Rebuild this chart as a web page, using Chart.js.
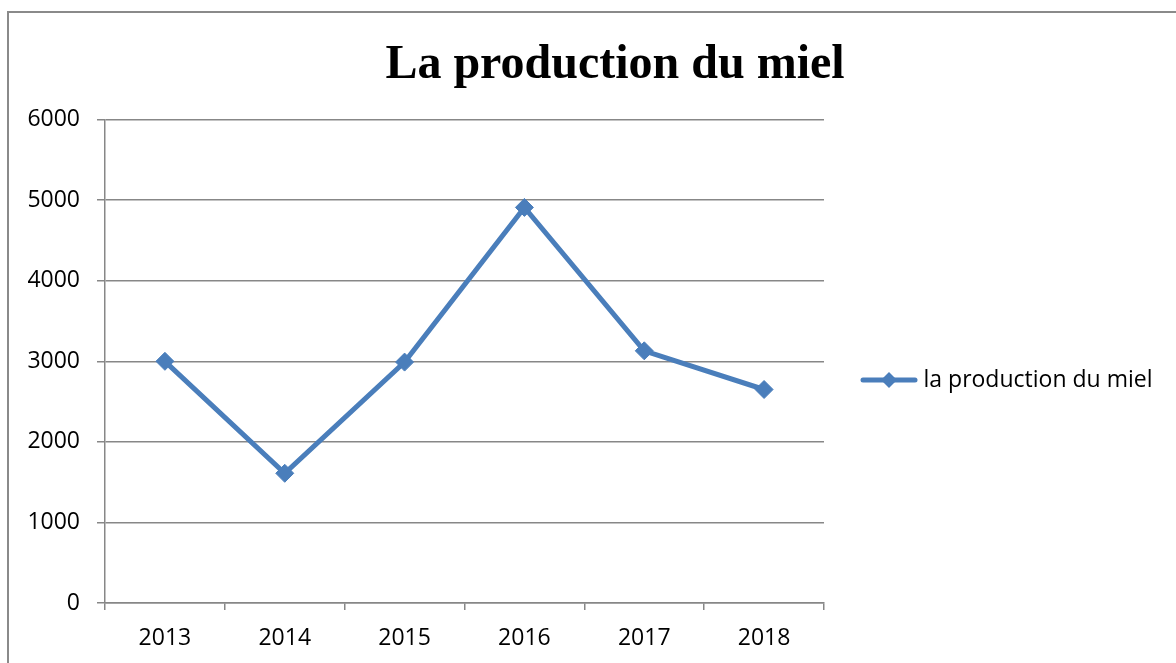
<!DOCTYPE html>
<html lang="fr">
<head>
<meta charset="utf-8">
<title>La production du miel</title>
<script src="https://cdn.jsdelivr.net/npm/chart.js@4"></script>
<style>
  html, body { margin: 0; padding: 0; background: #fff; overflow: hidden; }
  #frame {
    position: absolute; left: 7px; top: 11px; width: 1400px; height: 900px;
    border: 2px solid #8a8a8a; box-sizing: border-box;
  }
  #wrap { position: absolute; left: 0; top: 0; width: 1176px; height: 760px; }
</style>
</head>
<body>
<div id="frame"></div>
<div id="wrap"><canvas id="miel" width="1176" height="760"></canvas></div>
<script>
// données
const years = ['2013', '2014', '2015', '2016', '2017', '2018'];
const production = [3000, 1610, 2990, 4910, 3130, 2650];
const yMin = 0;
const yMax = 6000;
const yStep = 1000;
const titleText = 'La production du miel';
const seriesLabel = 'la production du miel';

const BLUE = '#4A7EBB';
const GRID = '#878787';
const TICK_FONT = { family: '"Open Sans", sans-serif', size: 23 };

// symbole de légende : trait + losange
function legendSymbol() {
    const c = document.createElement('canvas');
    c.width = 58;
    c.height = 20;
    const g = c.getContext('2d');
    g.strokeStyle = BLUE;
    g.lineWidth = 5;
    g.lineCap = 'round';
    g.beginPath();
    g.moveTo(3, 10);
    g.lineTo(55, 10);
    g.stroke();
    g.fillStyle = BLUE;
    g.beginPath();
    g.moveTo(29, 2);
    g.lineTo(37, 10);
    g.lineTo(29, 18);
    g.lineTo(21, 10);
    g.closePath();
    g.fill();
    return c;
}

// le titre Excel est centré sur toute la zone du graphique, pas sur la zone utile
const titleSpan = {
    id: 'titleSpan',
    afterLayout(chart) {
        const t = chart.titleBlock;
        if (!t) return;
        t.left = 74;
        t.right = 1156;
    },
};

new Chart(document.getElementById('miel'), {
    type: 'line',
    data: {
        labels: years,
        datasets: [{
            label: seriesLabel,
            data: production,
            borderColor: BLUE,
            backgroundColor: BLUE,
            borderWidth: 5,
            pointStyle: 'rectRot',
            pointRadius: 9,
            pointBorderWidth: 1,
            pointBackgroundColor: BLUE,
            pointBorderColor: BLUE,
            tension: 0,
            fill: false,
        }],
    },
    options: {
        responsive: false,
        animation: false,
        devicePixelRatio: 1,
        layout: { padding: { left: 10, right: 20, top: 0, bottom: 0 } },
        plugins: {
            title: {
                display: true,
                text: titleText,
                color: '#000',
                font: { family: '"Liberation Serif", "Times New Roman", serif', size: 48, weight: 'bold', lineHeight: 1.2 },
                padding: { top: 37, bottom: 25 },
            },
            legend: {
                position: 'right',
                maxWidth: 332,
                labels: {
                    usePointStyle: true,
                    pointStyle: legendSymbol(),
                    pointStyleWidth: 46,
                    padding: 42,
                    color: '#000',
                    font: TICK_FONT,
                },
            },
            tooltip: { enabled: false },
        },
        scales: {
            x: {
                type: 'category',
                offset: true,
                afterFit: (s) => { s.height = 157; },
                grid: {
                    offset: true,
                    drawOnChartArea: false,
                    drawTicks: true,
                    tickLength: 7,
                    color: GRID,
                    lineWidth: 1.5,
                },
                border: { display: true, color: GRID, width: 1.5 },
                ticks: { color: '#000', font: TICK_FONT, padding: 15, maxRotation: 0 },
            },
            y: {
                min: yMin,
                max: yMax,
                afterFit: (s) => { s.width = 95; },
                grid: { color: GRID, lineWidth: 1.5, tickLength: 8 },
                border: { display: true, color: GRID, width: 1.5 },
                ticks: {
                    stepSize: yStep,
                    color: '#000',
                    font: TICK_FONT,
                    padding: 17,
                    callback: (v) => String(v),
                },
            },
        },
    },
    plugins: [titleSpan],
});
</script>
</body>
</html>
